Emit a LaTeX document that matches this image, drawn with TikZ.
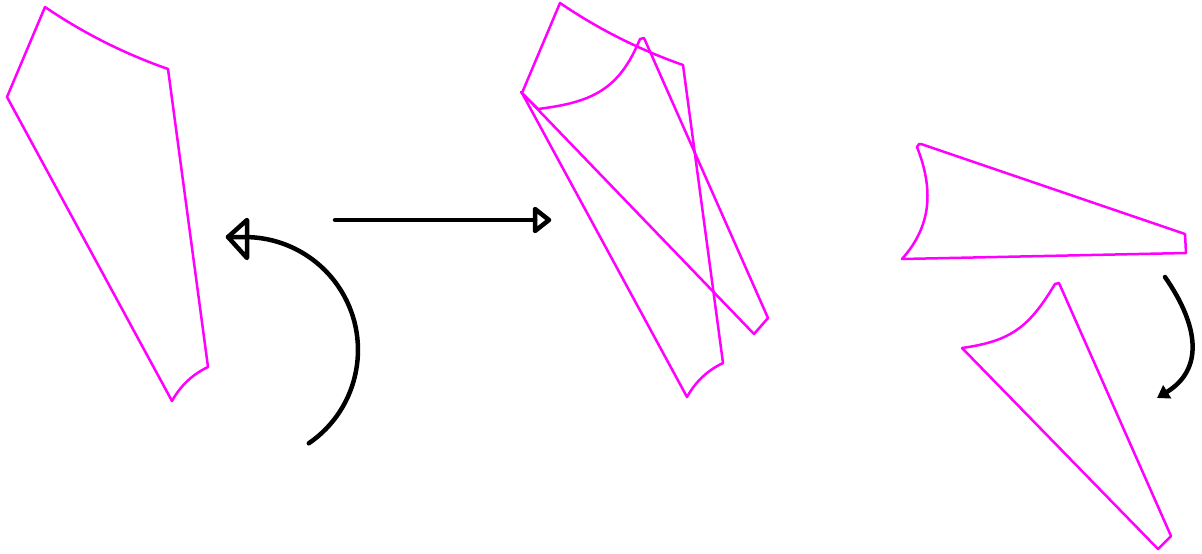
\documentclass[tikz,border=0pt]{standalone}
\usetikzlibrary{arrows.meta}
\definecolor{piececol}{RGB}{255,0,255}
\begin{document}
\begin{tikzpicture}[x=1pt,y=-1pt,
  piece/.style={draw=piececol, line width=2.5pt, line join=round},
  arrowline/.style={draw=black, line width=4.5pt, line cap=round, line join=round}]
\useasboundingbox (0,0) rectangle (1202,554);
% left piece
\draw[piece] (45,7) .. controls (83.3,33.1) and (124.3,53.7) .. (168,69) -- (208,367)
  .. controls (192.4,374.4) and (180.4,385.8) .. (172,401) -- (7,97) -- cycle;
% middle: copy of the piece
\begin{scope}[shift={(515,-4)}]
\draw[piece] (45,7) .. controls (83.3,33.1) and (124.3,53.7) .. (168,69) -- (208,367)
  .. controls (192.4,374.4) and (180.4,385.8) .. (172,401) -- (7,97) -- cycle;
\end{scope}
% middle: wedge
\draw[piece] (538,109) .. controls (592.6,102.2) and (619.2,89.5) .. (640,39) -- (644,38)
  -- (768,318) -- (754,334) -- (521,92) -- cycle;
% right: top piece
\draw[piece] (917,147) .. controls (933.5,188.9) and (932,225.4) .. (902,259)
  -- (1186,253) -- (1185,234) -- (921,144) -- (919,144) -- cycle;
% right: bottom wedge
\draw[piece] (962,348) .. controls (1011.5,341) and (1029.2,326.9) .. (1055,284)
  -- (1059,283) -- (1171,536) -- (1158,549) -- cycle;
% curved arrow (left)
\draw[arrowline] (308.8,443.3) arc[start angle=-55.6, end angle=90, radius=113pt] -- (228,237);
\draw[arrowline] (228,237) -- (247,220) -- (247,258) -- cycle;
% straight arrow
\draw[arrowline] (335,220) -- (535,220);
\draw[arrowline] (549,220) -- (535,209) -- (535,231) -- cycle;
% small curved arrow (right)
\draw[arrowline, -{Triangle[length=12pt,width=15pt]}] (1165,277)
  .. controls (1199.2,326.2) and (1203.8,369.4) .. (1157,398);
\end{tikzpicture}
\end{document}
